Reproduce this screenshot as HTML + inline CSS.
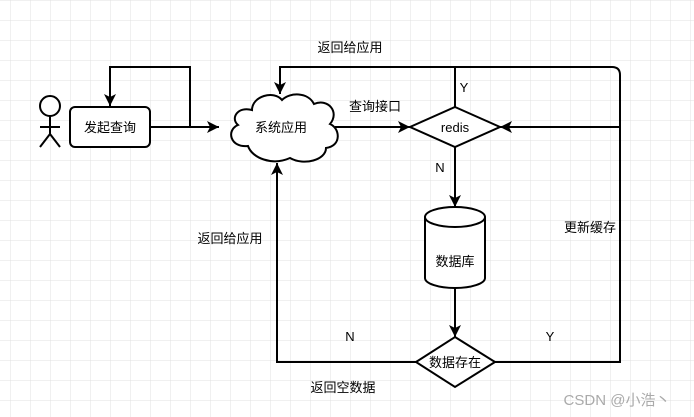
<!DOCTYPE html>
<html><head><meta charset="utf-8"><style>
html,body{margin:0;padding:0;background:#fff}
svg{display:block}
text{font-family:"Liberation Sans","Noto Sans CJK SC",sans-serif;font-size:13px;fill:#000}
</style></head><body>
<svg width="694" height="417" viewBox="0 0 694 417" xmlns="http://www.w3.org/2000/svg">
<defs>
<pattern id="g" width="20" height="20" patternUnits="userSpaceOnUse" x="10" y="0">
<path d="M0 0H20M0 0V20" fill="none" stroke="#e0e0e0" stroke-width="1"/>
</pattern>
<marker id="a" markerWidth="14" markerHeight="14" refX="12" refY="6" orient="auto" markerUnits="userSpaceOnUse">
<path d="M0 0L12 6L0 12L3 6Z" fill="#000"/>
</marker>
</defs>
<rect width="694" height="417" fill="url(#g)"/>
<g fill="none" stroke="#000" stroke-width="2">
<circle cx="50" cy="106" r="10" fill="#fff"/>
<path d="M50 116V134M40 127H60M50 134L40 147M50 134L60 147"/>
<rect x="70" y="107" width="80" height="40" rx="5" fill="#fff"/>
<path d="M150 127H219" marker-end="url(#a)"/>
<path d="M190 127V67H110V106" marker-end="url(#a)"/>
<path d="M252 110 C238 106 230 118 238 125 C226 130 230 148 248 146 C252 158 272 166 290 158 C304 166 326 160 326 148 C342 146 340 128 330 124 C340 112 328 98 314 104 C308 92 290 92 282 100 C274 90 252 96 252 110 Z" fill="#fff"/>
<path d="M335 127H410" marker-end="url(#a)"/>
<path d="M455 107L500 127L455 147L410 127Z" fill="#fff"/>
<path d="M455 107V67H612Q620 67 620 75V362H495"/>
<path d="M455 67H280V94" marker-end="url(#a)"/>
<path d="M620 127H500" marker-end="url(#a)"/>
<path d="M455 147V207" marker-end="url(#a)"/>
<path d="M425 217V278A30 10 0 0 0 485 278V217" fill="#fff"/>
<ellipse cx="455" cy="217" rx="30" ry="10" fill="#fff"/>
<path d="M455 288V337" marker-end="url(#a)"/>
<path d="M455 337L495 362L455 387L416 362Z" fill="#fff"/>
<path d="M416 362H277V163" marker-end="url(#a)"/>
</g>
<text x="110" y="132" text-anchor="middle">发起查询</text>
<text x="281" y="132" text-anchor="middle">系统应用</text>
<text x="375" y="111" text-anchor="middle">查询接口</text>
<text x="350" y="52" text-anchor="middle">返回给应用</text>
<text x="455" y="132" text-anchor="middle">redis</text>
<text x="464" y="92" text-anchor="middle">Y</text>
<text x="440" y="172" text-anchor="middle">N</text>
<text x="455" y="266" text-anchor="middle">数据库</text>
<text x="455" y="367" text-anchor="middle">数据存在</text>
<text x="590" y="232" text-anchor="middle">更新缓存</text>
<text x="550" y="341" text-anchor="middle">Y</text>
<text x="350" y="341" text-anchor="middle">N</text>
<text x="230" y="243" text-anchor="middle">返回给应用</text>
<text x="343" y="392" text-anchor="middle">返回空数据</text>
<text x="617" y="405" text-anchor="middle" style="font-size:15px;fill:#aaa">CSDN @小浩丶</text>
</svg>
</body></html>
